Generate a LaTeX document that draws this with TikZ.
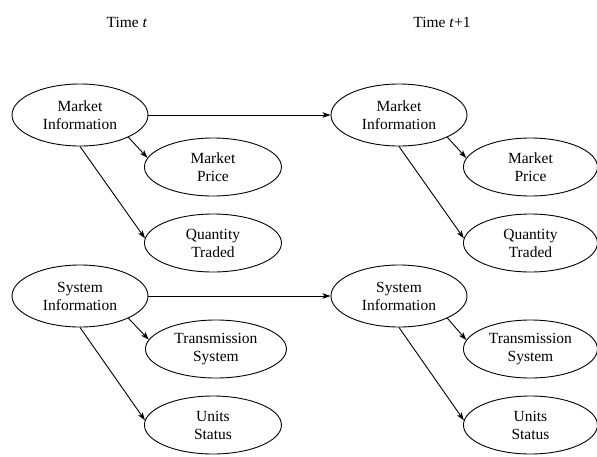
\documentclass[tikz,border=0pt]{standalone}
\usepackage{fontspec}
\setmainfont{Liberation Serif}
\usetikzlibrary{shapes.geometric,arrows.meta}
\begin{document}
\begin{tikzpicture}[x=1pt,y=-1pt,
  every node/.style={font=\fontsize{15.5}{18}\selectfont, align=center},
  info/.style={draw, line width=0.9pt, ellipse, inner sep=0pt, minimum width=136pt, minimum height=62pt},
  leaf/.style={draw, line width=0.9pt, ellipse, inner sep=0pt, minimum width=137pt, minimum height=58pt, anchor=west},
  link/.style={line width=0.9pt, -{Stealth[length=8pt,width=5.5pt,inset=2pt]}}]
  \useasboundingbox (0,0) rectangle (597,456);

  % time headings
  \node (t0) at (127,22) {Time \textit{t}};
  \node (t1) at (442,22) {Time \textit{t}+1};

  % time t
  \node[info] (mi0) at (80,115)  {Market\\Information};
  \node[leaf] (mp0) at (144,167) {Market\\Price};
  \node[leaf] (qt0) at (144,243) {Quantity\\Traded};
  \node[info] (si0) at (80,296)  {System\\Information};
  \node[leaf, minimum width=141pt] (ts0) at (145,349) {Transmission\\System};
  \node[leaf] (us0) at (144,425) {Units\\Status};

  % time t+1
  \node[info] (mi1) at (399,115) {Market\\Information};
  \node[leaf, minimum width=134pt] (mp1) at (463,167) {Market\\Price};
  \node[leaf, minimum width=134pt] (qt1) at (463,243) {Quantity\\Traded};
  \node[info] (si1) at (399,296) {System\\Information};
  \node[leaf, minimum width=134pt] (ts1) at (463,349) {Transmission\\System};
  \node[leaf, minimum width=134pt] (us1) at (463,425) {Units\\Status};

  % links between time steps
  \draw[link] (mi0.east) -- (mi1.west);
  \draw[link] (si0.east) -- (si1.west);

  % links within a time step
  \foreach \s in {0,1} {
    \draw[link] (mi\s.south east) -- (mp\s.172);
    \draw[link] (mi\s.south) -- (qt\s.176);
    \draw[link] (si\s.south east) -- (ts\s.172);
    \draw[link] (si\s.south) -- (us\s.176);
  }
\end{tikzpicture}
\end{document}
